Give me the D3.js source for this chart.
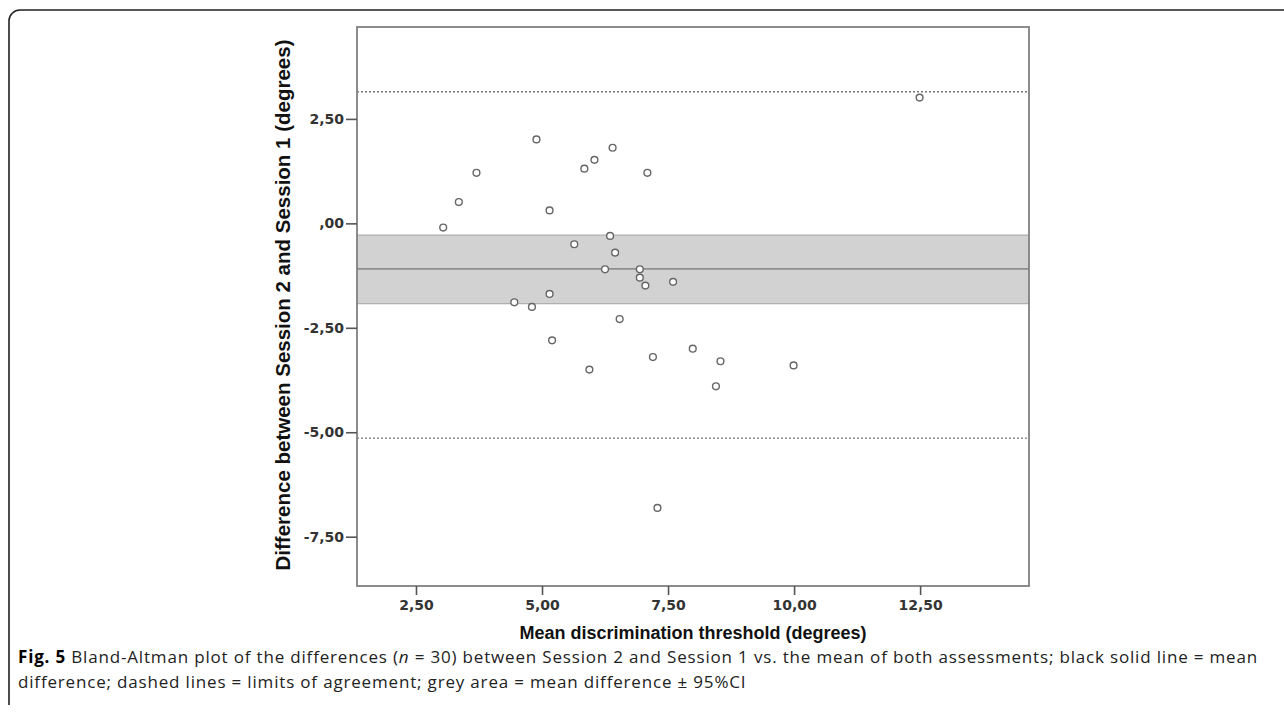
<!DOCTYPE html>
<html><head><meta charset="utf-8">
<script src="https://cdn.jsdelivr.net/npm/d3@7"></script>
<style>html,body{margin:0;padding:0;background:#fff;}svg{display:block;}</style>
</head><body>
<svg id="chart" width="1284" height="714"></svg>
<script>
// Data: mean of both sessions (x) and difference Session2 - Session1 (y)
const meanValues = [3.04,3.35,3.70,4.89,5.15,5.84,6.04,6.40,7.09,5.64,6.35,6.45,6.25,6.94,6.94,7.05,7.60,4.45,4.80,5.15,6.54,5.20,5.94,7.20,7.29,7.99,8.54,8.45,9.99,12.49];
const diffValues = [-0.10,0.51,1.21,2.01,0.31,1.31,1.52,1.81,1.21,-0.50,-0.30,-0.70,-1.10,-1.10,-1.30,-1.49,-1.40,-1.89,-2.00,-1.69,-2.29,-2.80,-3.50,-3.20,-6.81,-3.00,-3.30,-3.90,-3.40,3.01];
const meanDiff = -1.09;
const ciLower = -1.92, ciUpper = -0.28;
const loaLower = -5.14, loaUpper = 3.15;
const xTicks = [2.5,5,7.5,10,12.5];
const xTickLabels = ["2,50","5,00","7,50","10,00","12,50"];
const yTicks = [-7.5,-5,-2.5,0,2.5];
const yTickLabels = ["-7,50","-5,00","-2,50",",00","2,50"];
const xDomain = [1.33,14.66];
const yDomain = [-8.68,4.70];

const svg = d3.select("#chart");
const L = 357, R = 1029, T = 27, B = 586;
const x = d3.scaleLinear().domain(xDomain).range([L,R]);
const y = d3.scaleLinear().domain(yDomain).range([B,T]);

// outer frame
svg.append("path")
  .attr("d", `M9,705 L9,21 A11,11 0 0 1 20,10 L1284,10`)
  .attr("fill","none").attr("stroke","#222").attr("stroke-width",1.6);

const g = svg.append("g");
// CI band
g.append("rect").attr("x",L).attr("width",R-L)
  .attr("y",y(ciUpper)).attr("height",y(ciLower)-y(ciUpper))
  .attr("fill","#d2d2d2");
[ciUpper,ciLower].forEach(v=>{
  g.append("line").attr("x1",L).attr("x2",R).attr("y1",y(v)).attr("y2",y(v))
   .attr("stroke","#b0b0b0").attr("stroke-width",1.2);
});
// mean line
g.append("line").attr("x1",L).attr("x2",R).attr("y1",y(meanDiff)).attr("y2",y(meanDiff))
  .attr("stroke","#8e8e8e").attr("stroke-width",1.8);
// limits of agreement
[loaUpper,loaLower].forEach(v=>{
  g.append("line").attr("x1",L).attr("x2",R).attr("y1",y(v)).attr("y2",y(v))
   .attr("stroke","#777").attr("stroke-width",1.3).attr("stroke-dasharray","2,2");
});
// points
g.selectAll("circle.pt").data(meanValues.map((m,i)=>[m,diffValues[i]])).join("circle")
  .attr("class","pt").attr("cx",d=>x(d[0])).attr("cy",d=>y(d[1])).attr("r",3.4)
  .attr("fill","#fff").attr("stroke","#666").attr("stroke-width",1.4);

// plot frame
g.append("rect").attr("x",L).attr("y",T).attr("width",R-L).attr("height",B-T)
  .attr("fill","none").attr("stroke","#808080").attr("stroke-width",1.8);

// axes
const xAxis = d3.axisBottom(x).tickValues(xTicks).tickSize(9).tickPadding(5)
  .tickFormat((d,i)=>xTickLabels[i]);
const gx = svg.append("g").attr("transform",`translate(0,${B})`).call(xAxis);
const yAxis = d3.axisLeft(y).tickValues(yTicks).tickSize(11).tickPadding(2)
  .tickFormat((d,i)=>yTickLabels[i]);
const gy = svg.append("g").attr("transform",`translate(${L},0)`).call(yAxis);
[gx,gy].forEach(a=>{
  a.select(".domain").remove();
  a.selectAll(".tick line").attr("stroke","#555").attr("stroke-width",1.6);
  a.selectAll(".tick text").attr("fill","#333").attr("font-family","DejaVu Sans")
   .attr("font-weight","bold").attr("font-size",14);
});

// axis titles
svg.append("text").attr("x",(L+R)/2).attr("y",639).attr("text-anchor","middle")
  .attr("font-family","Liberation Sans, Arial").attr("font-weight","bold").attr("font-size",18)
  .attr("fill","#111").text("Mean discrimination threshold (degrees)");
svg.append("text").attr("transform",`translate(290,305) rotate(-90)`)
  .attr("text-anchor","middle")
  .attr("font-family","Liberation Sans, Arial").attr("font-weight","bold").attr("font-size",20.5)
  .attr("fill","#111").text("Difference between Session 2 and Session 1 (degrees)");

// caption
const cap = svg.append("g").attr("font-family","Open Sans").attr("font-size",17).attr("fill","#222");
const t1 = cap.append("text").attr("x",18).attr("y",663);
t1.append("tspan").attr("font-weight","bold").attr("fill","#000").text("Fig. 5");
t1.append("tspan").text(" Bland-Altman plot of the differences (");
t1.append("tspan").attr("font-style","italic").text("n");
t1.append("tspan").text(" = 30) between Session 2 and Session 1 vs. the mean of both assessments; black solid line = mean");
const t2 = cap.append("text").attr("x",18).attr("y",688)
  .text("difference; dashed lines = limits of agreement; grey area = mean difference ± 95%CI");
// fit first line to its width in the figure (about 1240 px) with letter spacing
const w1 = t1.node().getComputedTextLength();
const n1 = t1.text().length;
const ls = (1240 - w1) / n1;
cap.attr("letter-spacing", ls);
</script>
</body></html>
